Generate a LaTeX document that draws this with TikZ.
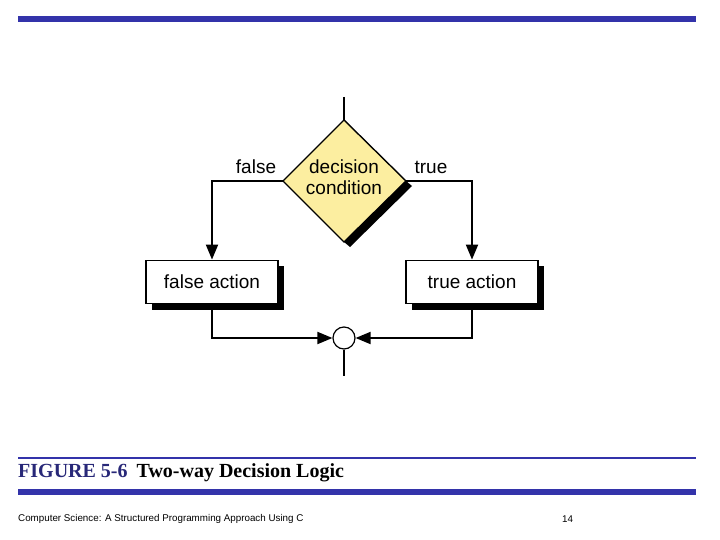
\documentclass[tikz,border=0pt]{standalone}
\usepackage{fontspec}
\setmainfont{Liberation Sans}
\newfontfamily\capfont{Liberation Serif}
\usetikzlibrary{arrows.meta,shapes.geometric,calc}
\definecolor{barblue}{RGB}{51,51,170}
\definecolor{capblue}{RGB}{40,40,120}
\definecolor{diafill}{RGB}{252,238,160}
\tikzset{
  flow/.style={line width=1.9pt},
  arr/.style={flow,-{Triangle[length=15pt,width=12pt]}},
  actbox/.style={draw,line width=1.8pt,fill=white,minimum width=132pt,minimum height=43pt,inner sep=0pt,font=\fontsize{19}{21}\selectfont},
  lbl/.style={font=\fontsize{19}{21}\selectfont,inner sep=0pt},
}
\begin{document}
\begin{tikzpicture}[x=1pt,y=-1pt]
\useasboundingbox (0,0) rectangle (720,540);
% bars
\fill[barblue] (18,16) rectangle (696,22);
\draw[barblue,line width=2pt] (18,457.5) -- (696,457.5);
\fill[barblue] (18,489) rectangle (696,495);
\node[anchor=west,inner sep=0pt,font=\capfont\bfseries\fontsize{20}{22}\selectfont] (cap) at (18,473)
  {\textcolor{capblue}{FIGURE 5-6}\hspace{9pt}Two-way Decision Logic};
\node[anchor=west,inner sep=0pt,font=\fontsize{9.8}{11}\selectfont] (foot) at (18,519)
  {Computer Science: A Structured Programming Approach Using C};
\node[anchor=west,inner sep=0pt,font=\fontsize{9.8}{11}\selectfont] (pg) at (562,519) {14};
% diamond
\coordinate (dT) at (344,120);
\coordinate (dL) at (283,181);
\coordinate (dR) at (406,181);
\coordinate (dB) at (344,242);
\fill[black] (dR) -- ($(dR)+(6,5)$) -- ($(dB)+(6,5)$) -- (dB) -- cycle;
\filldraw[fill=diafill,draw=black,line width=1.4pt] (dT) -- (dR) -- (dB) -- (dL) -- cycle;
\node[lbl,align=center] (dec) at (344,177) {decision\\condition};
\coordinate (topin) at (344,97);
\draw[flow] (topin) -- (dT);
% boxes
\fill (152,266) rectangle (284,310);
\node[actbox] (fa) at (212,282) {false action};
\fill (412,266) rectangle (544,310);
\node[actbox] (ta) at (472,282) {true action};
% labels
\node[lbl] (fl) at (256,167) {false};
\node[lbl] (tl) at (431,167) {true};
% connectors
\draw[arr] (dL) -| (fa.north);
\draw[arr] (dR) -| (ta.north);
\node[circle,draw,line width=1.2pt,minimum size=22pt,inner sep=0pt,fill=white] (j) at (344,338) {};
\coordinate (fb) at (212,310);
\coordinate (tb) at (472,310);
\draw[arr] (fb) |- (j.west);
\draw[arr] (tb) |- (j.east);
\coordinate (out) at (344,376);
\draw[flow] (j.south) -- (out);
\end{tikzpicture}
\end{document}
